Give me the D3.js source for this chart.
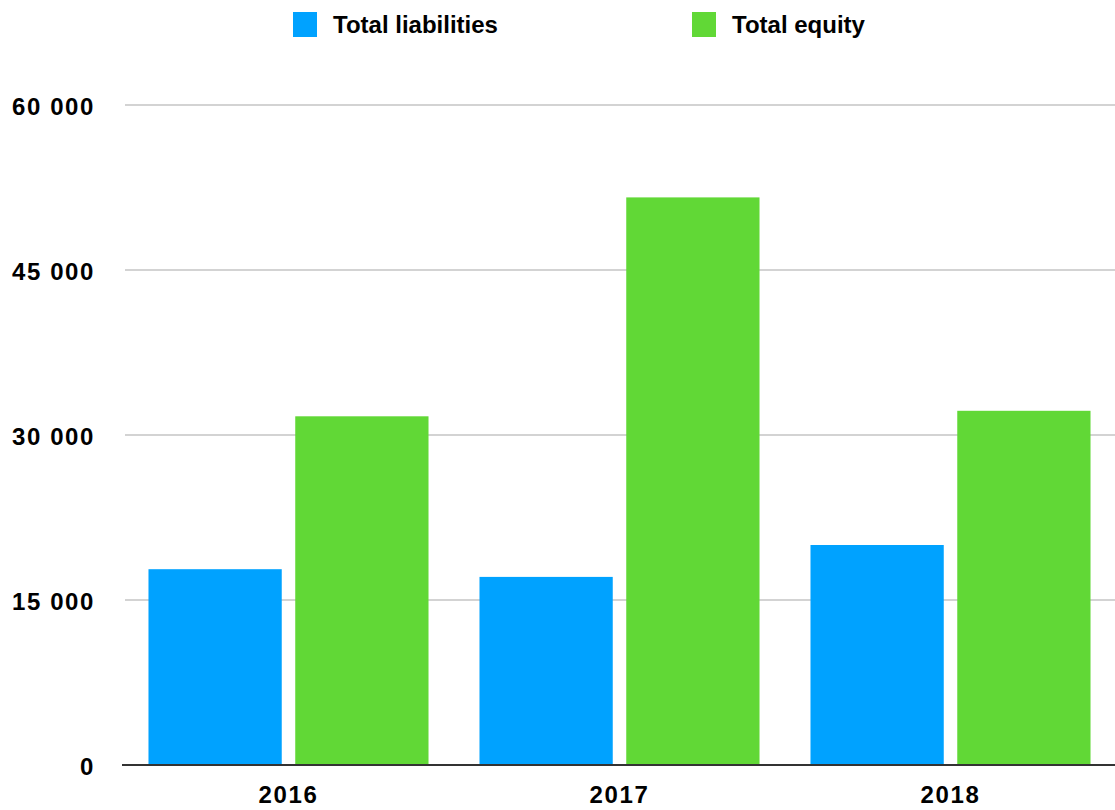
<!DOCTYPE html>
<html>
<head>
<meta charset="utf-8">
<script src="https://cdn.jsdelivr.net/npm/d3@7"></script>
<style>
  html, body { margin: 0; padding: 0; background: #fff; }
  svg { display: block; }
  text { font-family: "Liberation Sans", Arial, Helvetica, sans-serif; font-weight: bold; fill: #000; }
</style>
</head>
<body>
<svg id="chart" width="1115" height="810"></svg>
<script>
const years = ["2016", "2017", "2018"];
const seriesNames = ["Total liabilities", "Total equity"];
const liabilities = [17800, 17100, 20000];
const equity = [31700, 51600, 32200];
const yTicks = [0, 15000, 30000, 45000, 60000];
const colors = ["#00A2FF", "#61D836"];

const svg = d3.select("#chart");
const W = 1115, H = 810;

const x = d3.scaleBand().domain(years).range([122, 1117]).paddingInner(0.154).paddingOuter(0.08);
const xSub = d3.scaleBand().domain(seriesNames).range([0, x.bandwidth()]).paddingInner(0.092);
const y = d3.scaleLinear().domain([0, 60000]).range([765, 105]);

const fmt = v => d3.format(",")(v).replace(/,/g, " ");

// gridlines
svg.append("g").selectAll("line").data(yTicks.filter(d => d > 0)).join("line")
  .attr("x1", 125).attr("x2", W)
  .attr("y1", d => y(d)).attr("y2", d => y(d))
  .attr("stroke", "#c4c4c4").attr("stroke-width", 1.6);

// y axis labels
const yAxis = d3.axisLeft(y).tickValues(yTicks).tickFormat(fmt).tickSize(0).tickPadding(0);
const yg = svg.append("g").attr("transform", "translate(95,2)").call(yAxis);
yg.select(".domain").remove();
yg.selectAll("text").attr("font-size", 24).attr("font-family", "Liberation Sans, Arial, sans-serif")
  .attr("font-weight", "bold").attr("fill", "#000").attr("letter-spacing", 1.6);

// bars
const data = years.map((yr, i) => ({ year: yr, values: [liabilities[i], equity[i]] }));
const groups = svg.append("g").selectAll("g").data(data).join("g")
  .attr("transform", d => `translate(${x(d.year)},0)`);
groups.selectAll("rect").data(d => d.values.map((v, j) => ({ name: seriesNames[j], v, j }))).join("rect")
  .attr("x", d => xSub(d.name))
  .attr("width", xSub.bandwidth())
  .attr("y", d => y(d.v))
  .attr("height", d => y(0) - y(d.v))
  .attr("fill", d => colors[d.j]);

// x axis
const xAxis = d3.axisBottom(x).tickSize(0).tickPadding(21);
const xg = svg.append("g").attr("transform", `translate(0,${y(0)})`).call(xAxis);
xg.select(".domain").attr("d", `M122,0H${W}`).attr("stroke", "#333").attr("stroke-width", 2.2);
xg.selectAll("text").attr("font-size", 24).attr("font-family", "Liberation Sans, Arial, sans-serif")
  .attr("font-weight", "bold").attr("fill", "#000").attr("letter-spacing", 1.6);

// legend
const legendX = [293, 692];
const lg = svg.append("g").selectAll("g").data(seriesNames).join("g")
  .attr("transform", (d, i) => `translate(${legendX[i]},12)`);
lg.append("rect").attr("width", 24).attr("height", 25).attr("fill", (d, i) => colors[i]);
lg.append("text").attr("x", 40).attr("y", 21).attr("font-size", 24).text(d => d);
</script>
</body>
</html>
